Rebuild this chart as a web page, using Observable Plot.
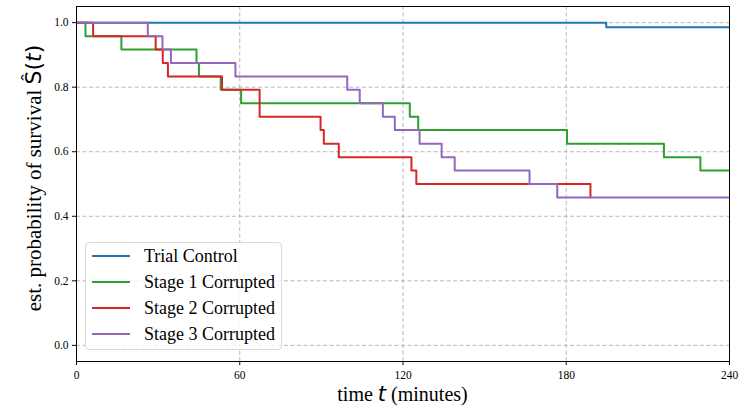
<!DOCTYPE html>
<html>
<head>
<meta charset="utf-8">
<script src="https://cdn.jsdelivr.net/npm/d3@7"></script>
<script src="https://cdn.jsdelivr.net/npm/@observablehq/plot@0.6"></script>
<style>
  body { margin: 0; background: #fff; }
  #wrap { position: relative; width: 745px; height: 407px; }
  #legend {
    position: absolute; left: 85px; top: 242px; width: 195px; height: 106px;
    border: 1px solid #d9d9d9; border-radius: 4px; background: rgba(255,255,255,0.8);
    font-family: "Liberation Serif", serif; font-size: 18px; color: #000;
  }
  .row { position: absolute; left: 0; height: 20px; display: flex; align-items: center; }
  .sw { width: 38px; height: 2px; margin-left: 6px; margin-right: 14px; }
</style>
</head>
<body>
<div id="wrap"></div>
<script>
// ---- data ----
const seriesNames = ["Trial Control", "Stage 1 Corrupted", "Stage 2 Corrupted", "Stage 3 Corrupted"];
const seriesColors = ["#1f77b4", "#2ca02c", "#d62728", "#9467bd"];

const controlT = [0, 194.7, 240];
const controlS = [1, 0.986, 0.986];

const stage1T = [0, 3.3, 16.5, 44.1, 45.0, 53.0, 60.5, 122.5, 125.6, 180.3, 215.9, 229.3, 240];
const stage1S = [1, 0.958, 0.917, 0.875, 0.833, 0.792, 0.750, 0.708, 0.667, 0.625, 0.583, 0.542, 0.542];

const stage2T = [0, 6.1, 29.1, 31.7, 33.6, 53.5, 67.3, 89.7, 90.9, 96.4, 123.1, 124.9, 188.9];
const stage2S = [1, 0.958, 0.917, 0.875, 0.833, 0.792, 0.708, 0.667, 0.625, 0.583, 0.542, 0.500, 0.458];

const stage3T = [0, 26.2, 31.6, 34.7, 58.4, 99.5, 104.1, 112.6, 117.0, 126.1, 134.2, 139.0, 166.5, 176.7, 240];
const stage3S = [1, 0.958, 0.917, 0.875, 0.833, 0.792, 0.750, 0.708, 0.667, 0.625, 0.583, 0.542, 0.500, 0.458, 0.458];

const xTicks = [0, 60, 120, 180, 240];
const yTicks = [0.0, 0.2, 0.4, 0.6, 0.8, 1.0];

const allT = [controlT, stage1T, stage2T, stage3T];
const allS = [controlS, stage1S, stage2S, stage3S];
const rows = allT.map((ts, i) => ts.map((t, j) => ({series: seriesNames[i], t, s: allS[i][j]})));

const tickFont = {fontFamily: "Liberation Serif", fontSize: 11.5};

const chart = Plot.plot({
  width: 745,
  height: 407,
  marginLeft: 76,
  marginRight: 16,
  marginTop: 6,
  marginBottom: 46,
  style: {fontFamily: "Liberation Serif", fontSize: "11.5px", color: "#000", background: "#fff"},
  x: {domain: [0, 240], ticks: xTicks, label: null},
  y: {domain: [-0.05, 1.05], ticks: yTicks, label: null},
  marks: [
    Plot.gridX(xTicks, {stroke: "#b0b0b0", strokeOpacity: 1, strokeDasharray: "4,2.5", strokeWidth: 0.9}),
    Plot.gridY(yTicks, {stroke: "#b0b0b0", strokeOpacity: 1, strokeDasharray: "4,2.5", strokeWidth: 0.9}),
    ...rows.map((r, i) => Plot.line(r, {x: "t", y: "s", curve: "step-after", stroke: seriesColors[i], strokeWidth: 2, clip: true})),
    Plot.frame({stroke: "#000", strokeWidth: 1}),
    Plot.axisX(xTicks, {tickSize: 4, tickPadding: 5, tickFormat: d => String(d), label: null, stroke: "#000", ...tickFont}),
    Plot.axisY(yTicks, {tickSize: 4, tickPadding: 4, tickFormat: d => d.toFixed(1), label: null, stroke: "#000", ...tickFont})
  ]
});

const wrap = document.getElementById("wrap");
wrap.appendChild(chart);

// axis titles with math parts
const svg = d3.select(chart);
const yl = svg.append("text")
  .attr("transform", "translate(41,178) rotate(-90)")
  .attr("text-anchor", "middle")
  .attr("font-family", "Liberation Serif")
  .attr("font-size", 21)
  .attr("fill", "#000");
yl.append("tspan").text("est. probability of survival ");
yl.append("tspan").attr("font-family", "DejaVu Sans").attr("font-size", 22).text("\u015C(");
yl.append("tspan").attr("font-family", "DejaVu Sans").attr("font-size", 22).attr("font-style", "italic").text("t");
yl.append("tspan").attr("font-family", "DejaVu Sans").attr("font-size", 22).text(")");

const xl = svg.append("text")
  .attr("x", 402.5).attr("y", 401)
  .attr("text-anchor", "middle")
  .attr("font-family", "Liberation Serif")
  .attr("font-size", 20)
  .attr("fill", "#000");
xl.append("tspan").text("time ");
xl.append("tspan").attr("font-family", "DejaVu Sans").attr("font-size", 21).attr("font-style", "italic").text("t");
xl.append("tspan").text(" (minutes)");

// legend
const legend = document.createElement("div");
legend.id = "legend";
seriesNames.forEach((name, i) => {
  const row = document.createElement("div");
  row.className = "row";
  row.style.top = (3 + i * 26) + "px";
  const sw = document.createElement("div");
  sw.className = "sw";
  sw.style.background = seriesColors[i];
  const label = document.createElement("span");
  label.textContent = name;
  row.appendChild(sw);
  row.appendChild(label);
  legend.appendChild(row);
});
wrap.appendChild(legend);
</script>
</body>
</html>
